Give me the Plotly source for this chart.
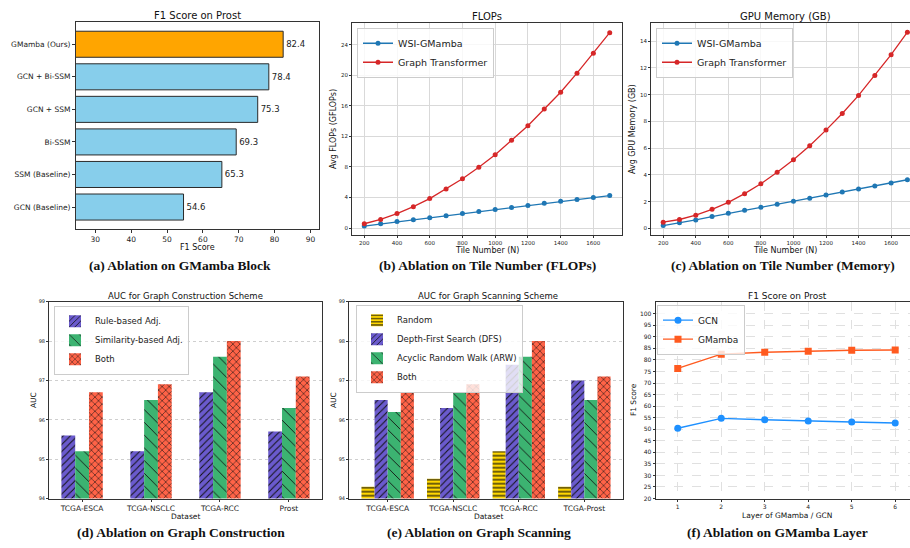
import plotly.graph_objects as go

W, H = 910, 548

# ---------------- data ----------------
# (a) Ablation on GMamba block
a_variants = ["GMamba (Ours)", "GCN + Bi-SSM", "GCN + SSM", "Bi-SSM", "SSM (Baseline)", "GCN (Baseline)"]
a_f1 = [82.4, 78.4, 75.3, 69.3, 65.3, 54.6]

# (b)/(c) Ablation on tile number
tiles = [200, 300, 400, 500, 600, 700, 800, 900, 1000, 1100, 1200, 1300, 1400, 1500, 1600, 1700]
flops_gmamba = [0.26, 0.56, 0.87, 1.08, 1.34, 1.60, 1.90, 2.17, 2.43, 2.69, 2.95, 3.25, 3.50, 3.73, 3.99, 4.25]
flops_gt = [0.56, 1.13, 1.90, 2.80, 3.86, 5.10, 6.45, 7.97, 9.60, 11.5, 13.4, 15.6, 17.8, 20.3, 22.9, 25.6]
mem_gmamba = [0.22, 0.42, 0.64, 0.89, 1.14, 1.36, 1.58, 1.81, 2.03, 2.25, 2.50, 2.72, 2.94, 3.17, 3.39, 3.64]
mem_gt = [0.47, 0.67, 0.99, 1.43, 1.95, 2.60, 3.34, 4.20, 5.14, 6.18, 7.35, 8.59, 9.94, 11.43, 12.99, 14.67]

# (d) Graph construction
d_datasets = ["TCGA-ESCA", "TCGA-NSCLC", "TCGA-RCC", "Prost"]
d_rule = [95.6, 95.2, 96.7, 95.7]
d_sim = [95.2, 96.5, 97.6, 96.3]
d_both = [96.7, 96.9, 98.0, 97.1]

# (e) Graph scanning
e_datasets = ["TCGA-ESCA", "TCGA-NSCLC", "TCGA-RCC", "TCGA-Prost"]
e_random = [94.3, 94.5, 95.2, 94.3]
e_dfs = [96.5, 96.3, 97.4, 97.0]
e_arw = [96.2, 96.7, 97.6, 96.5]
e_both = [96.7, 96.9, 98.0, 97.1]

# (f) GMamba layers
layers = [1, 2, 3, 4, 5, 6]
f_gcn = [50.4, 54.7, 54.1, 53.5, 53.1, 52.7]
f_gmamba = [76.3, 82.5, 83.3, 83.8, 84.2, 84.3]
f_yticks = list(range(20, 101, 5))

# ---------------- styles ----------------
FONT = "DejaVu Sans"
SERIF = "Liberation Serif"
AX = "#333333"
BLUE, RED = "#1f77b4", "#d62728"
SLATE, SEA, TOMATO, GOLD = "#6a5acd", "#3cb371", "#ff6347", "#ffd700"
a_colors = ["#ffa500"] + ["#87ceeb"] * 5


def px(x):
    return x / W


def py(y):
    return 1 - y / H


fig = go.Figure()

# (a)
fig.add_trace(go.Bar(
    x=a_f1, y=a_variants, orientation="h", width=0.8,
    marker=dict(color=a_colors, line=dict(color="#2a2a2a", width=1)),
    text=[f"{v:.1f}" for v in a_f1], textposition="outside", cliponaxis=False,
    constraintext="none", textfont=dict(size=8.5, color="#222", family=FONT),
    showlegend=False, xaxis="x", yaxis="y"))

# (b)
fig.add_trace(go.Scatter(x=tiles, y=flops_gmamba, mode="lines+markers", name="WSI-GMamba",
                         line=dict(color=BLUE, width=1.3), marker=dict(size=5, color=BLUE),
                         xaxis="x2", yaxis="y2", legend="legend"))
fig.add_trace(go.Scatter(x=tiles, y=flops_gt, mode="lines+markers", name="Graph Transformer",
                         line=dict(color=RED, width=1.3), marker=dict(size=5, color=RED),
                         xaxis="x2", yaxis="y2", legend="legend"))
# (c)
fig.add_trace(go.Scatter(x=tiles, y=mem_gmamba, mode="lines+markers", name="WSI-GMamba",
                         line=dict(color=BLUE, width=1.3), marker=dict(size=5, color=BLUE),
                         xaxis="x3", yaxis="y3", legend="legend2"))
fig.add_trace(go.Scatter(x=tiles, y=mem_gt, mode="lines+markers", name="Graph Transformer",
                         line=dict(color=RED, width=1.3), marker=dict(size=5, color=RED),
                         xaxis="x3", yaxis="y3", legend="legend2"))


def pat(shape, bg, size, sol):
    return dict(shape=shape, fgcolor="#111111", bgcolor=bg, size=size, solidity=sol,
                fillmode="replace")


# (d)
for vals, name, col, shp, sz, sol, off in [
    (d_rule, "Rule-based Adj.", SLATE, "/", 5, 0.2, -0.3),
    (d_sim, "Similarity-based Adj.", SEA, "\\", 9, 0.1, -0.1),
    (d_both, "Both", TOMATO, "x", 5, 0.2, 0.1),
]:
    fig.add_trace(go.Bar(x=d_datasets, y=vals, name=name, width=0.2, offset=off,
                         marker=dict(color=col, pattern=pat(shp, col, sz, sol), line=dict(width=0)),
                         xaxis="x4", yaxis="y4", legend="legend3"))

# (e)
for vals, name, col, shp, sz, sol, off in [
    (e_random, "Random", GOLD, "-", 4, 0.3, -0.4),
    (e_dfs, "Depth-First Search (DFS)", SLATE, "/", 5, 0.2, -0.2),
    (e_arw, "Acyclic Random Walk (ARW)", SEA, "\\", 9, 0.1, 0.0),
    (e_both, "Both", TOMATO, "x", 5, 0.2, 0.2),
]:
    fig.add_trace(go.Bar(x=e_datasets, y=vals, name=name, width=0.2, offset=off,
                         marker=dict(color=col, pattern=pat(shp, col, sz, sol), line=dict(width=0)),
                         xaxis="x5", yaxis="y5", legend="legend4"))

# (f)
fig.add_trace(go.Scatter(x=layers, y=f_gcn, mode="lines+markers", name="GCN",
                         line=dict(color="#1e90ff", width=1.4),
                         marker=dict(size=7, color="#1e90ff", symbol="circle"),
                         xaxis="x6", yaxis="y6", legend="legend5"))
fig.add_trace(go.Scatter(x=layers, y=f_gmamba, mode="lines+markers", name="GMamba",
                         line=dict(color="#ff5a1f", width=1.4),
                         marker=dict(size=7, color="#ff5a1f", symbol="square"),
                         xaxis="x6", yaxis="y6", legend="legend5"))


def axis(domain, anchor, tsize, rng=None, mirror=True, grid=False, gridcolor="#d9d9d9",
         griddash="solid", ticklen=3, **kw):
    d = dict(domain=domain, anchor=anchor, showline=True, linecolor=AX, linewidth=0.9,
             mirror=mirror, ticks="outside", ticklen=ticklen, tickwidth=0.8, tickcolor=AX,
             tickfont=dict(size=tsize, color="#222", family=FONT), showgrid=grid,
             gridcolor=gridcolor, griddash=griddash, gridwidth=0.8, zeroline=False)
    if rng is not None:
        d["range"] = rng
        d["autorange"] = False
    d.update(kw)
    return d


ya = [py(229), py(19)]
yb = [py(235), py(20)]
yd = [py(501), py(302)]

layout = dict(
    width=W, height=H, margin=dict(l=0, r=0, t=0, b=0),
    paper_bgcolor="white", plot_bgcolor="white", barmode="overlay",
    font=dict(family=FONT, color="#222"),
    xaxis=axis([px(76), px(319)], "y", 7.5, [24.6, 92.4], ticklen=2.5, dtick=10, tick0=0),
    yaxis=axis(ya, "x", 7.5, [5.69, -0.69], type="category"),
    xaxis2=axis([px(352), px(622)], "y2", 5.5, [125, 1775], grid=True, ticklen=2, dtick=200, tick0=0),
    yaxis2=axis(yb, "x2", 5.5, [-0.97, 26.9], grid=True, ticklen=2, dtick=4, tick0=0),
    xaxis3=axis([px(651), 1.0], "y3", 5.5, [125, 1716], grid=True, ticklen=2, dtick=200, tick0=0),
    yaxis3=axis(yb, "x3", 5.5, [-0.52, 15.37], mirror=False, grid=True, ticklen=2, dtick=2, tick0=0),
    xaxis4=axis([px(49), px(322)], "y4", 7.5, [-0.48, 3.48], ticklen=2.5, type="category"),
    yaxis4=axis(yd, "x4", 5, [94, 99], grid=True, gridcolor="#cfcfcf", griddash="dot",
                ticklen=2, dtick=1, tick0=0),
    xaxis5=axis([px(349), px(623)], "y5", 7.5, [-0.59, 3.59], ticklen=2.5, type="category"),
    yaxis5=axis(yd, "x5", 5, [94, 99], grid=True, gridcolor="#cfcfcf", griddash="dot",
                ticklen=2, dtick=1, tick0=0),
    xaxis6=axis([px(656), 1.0], "y6", 6, [0.5, 6.34], grid=True, gridcolor="#e0e0e0",
                griddash="dash", ticklen=2.5, dtick=1, tick0=0),
    yaxis6=axis(yd, "x6", 6, [20, 105.2], mirror=False, grid=True, gridcolor="#e0e0e0",
                griddash="dash", ticklen=2.5, tickmode="array", tickvals=f_yticks),
)

leg_common = dict(bgcolor="rgba(255,255,255,0.8)", bordercolor="#cccccc", borderwidth=1,
                  xanchor="left", yanchor="top", tracegroupgap=0)
layout["legend"] = dict(x=px(357), y=py(25), font=dict(size=9.5, family=FONT, color="#222"), **leg_common)
layout["legend2"] = dict(x=px(656), y=py(25), font=dict(size=9.5, family=FONT, color="#222"), **leg_common)
layout["legend3"] = dict(x=px(54), y=py(306), font=dict(size=8.5, family=FONT, color="#222"), **leg_common)
layout["legend4"] = dict(x=px(356), y=py(305), font=dict(size=8.5, family=FONT, color="#222"), **leg_common)
layout["legend5"] = dict(x=px(657), y=py(305), font=dict(size=9, family=FONT, color="#222"), **leg_common)

fig.update_layout(**layout)

ann = []


def text(x, y, s, size, angle=0, family=FONT):
    ann.append(dict(x=px(x), y=py(y), xref="paper", yref="paper", text=s, showarrow=False,
                    xanchor="center", yanchor="middle", textangle=angle,
                    font=dict(size=size, family=family, color="#111")))


# titles
text(197, 13, "F1 Score on Prost", 10)
text(487, 14, "FLOPs", 10)
text(785, 14, "GPU Memory (GB)", 10)
text(185.5, 296, "AUC for Graph Construction Scheme", 8.5)
text(488, 296, "AUC for Graph Scanning Scheme", 8.5)
text(787, 296, "F1 Score on Prost", 9)
# axis labels
text(197, 247, "F1 Score", 8)
text(487, 250, "Tile Number (N)", 8)
text(785, 250, "Tile Number (N)", 8)
text(333, 127.5, "Avg FLOPs (GFLOPs)", 8, -90)
text(632, 127.5, "Avg GPU Memory (GB)", 8, -90)
text(33, 401.5, "AUC", 7.5, -90)
text(333, 401.5, "AUC", 7.5, -90)
text(633, 401.5, "F1 Score", 7.5, -90)
text(185.5, 519, "Dataset", 7.5)
text(488, 519, "Dataset", 7.5)
text(787, 518, "Layer of GMamba / GCN", 7.5)
# captions
text(180, 265, "<b>(a) Ablation on GMamba Block</b>", 13.5, family=SERIF)
text(487, 265, "<b>(b) Ablation on Tile Number (FLOPs)</b>", 13.5, family=SERIF)
text(783, 265, "<b>(c) Ablation on Tile Number (Memory)</b>", 13.5, family=SERIF)
text(181, 535, "<b>(d) Ablation on Graph Construction</b>", 13.5, family=SERIF)
text(479, 535, "<b>(e) Ablation on Graph Scanning</b>", 13.5, family=SERIF)
text(777, 535, "<b>(f) Ablation on GMamba Layer</b>", 13.5, family=SERIF)

fig.update_layout(annotations=ann)
fig.write_html("out.html", config={"displayModeBar": False},
               post_script="document.body.style.margin='0';document.body.style.overflow='hidden';")
